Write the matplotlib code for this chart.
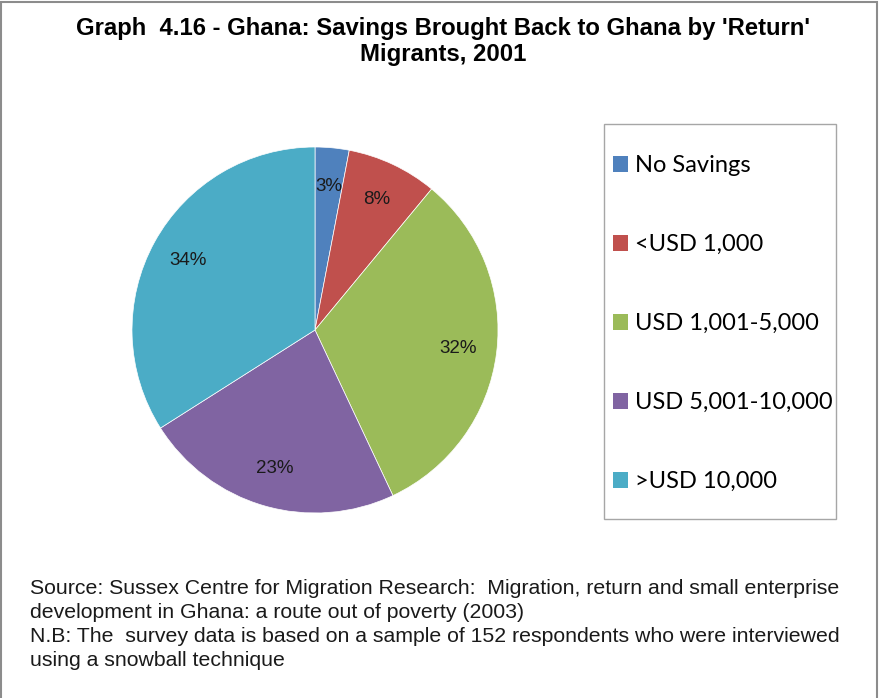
import matplotlib
matplotlib.use("Agg")
from matplotlib import pyplot as plt
from matplotlib.patches import Rectangle, Patch

# data
categories = ["No Savings", "<USD 1,000", "USD 1,001-5,000",
              "USD 5,001-10,000", ">USD 10,000"]
shares = [3, 8, 32, 23, 34]
colors = ["#4F81BD", "#C0504D", "#9BBB59", "#8064A2", "#4BACC6"]
source_lines = [
    "Source: Sussex Centre for Migration Research:  Migration, return and small enterprise",
    "development in Ghana: a route out of poverty (2003)",
    "N.B: The  survey data is based on a sample of 152 respondents who were interviewed",
    "using a snowball technique",
]

W, H = 880, 698
fig = plt.figure(figsize=(W / 100, H / 100), dpi=100)
fig.patch.set_facecolor("white")

# outer chart frame
fig.patches.append(Rectangle((1 / W, -0.05), 876 / W, 1.05 - 2 / H,
                             transform=fig.transFigure, fill=False,
                             edgecolor="#8C8C8C", linewidth=1.5))

arial = ["Liberation Sans", "DejaVu Sans"]

fig.text(443 / W, 1 - 29 / H,
         "Graph  4.16 - Ghana: Savings Brought Back to Ghana by 'Return'",
         ha="center", va="center", fontsize=17.2, fontweight="bold", family=arial)
fig.text(443 / W, 1 - 54 / H, "Migrants, 2001",
         ha="center", va="center", fontsize=17.2, fontweight="bold", family=arial)

# pie
cx, cy, r = 315, 330, 183
ax = fig.add_axes([(cx - r) / W, (H - cy - r) / H, 2 * r / W, 2 * r / H])
wedges, texts, autotexts = ax.pie(
    shares, colors=colors, startangle=90, counterclock=False,
    autopct="%d%%", pctdistance=0.79,
    wedgeprops=dict(linewidth=0.5, edgecolor="white"),
    textprops=dict(fontsize=13.5, family=arial, color="#1a1a1a"))
ax.set_xlim(-1, 1)
ax.set_ylim(-1, 1)
ax.set_aspect("auto")
ax.axis("off")

# legend box drawn separately, entries from fig.legend
fig.patches.append(Rectangle((604 / W, 1 - 519 / H), 232 / W, 395 / H,
                             transform=fig.transFigure, fill=False,
                             edgecolor="#A6A6A6", linewidth=1.0))
handles = [Patch(facecolor=c, edgecolor="none") for c in colors]
leg = fig.legend(handles, categories, loc="upper left",
                 bbox_to_anchor=(613 / W, 1 - 155 / H),
                 frameon=False,
                 prop=dict(family=["Lato", "DejaVu Sans"], size=17),
                 handlelength=0.65, handleheight=0.65, handletextpad=0.3,
                 labelspacing=2.46, borderpad=0, borderaxespad=0)

for i, line in enumerate(source_lines):
    fig.text(30 / W, 1 - (588 + 24 * i) / H, line, ha="left", va="center",
             fontsize=15.3, family=arial, color="#1a1a1a")

fig.savefig("out.png", dpi=100, facecolor="white")
